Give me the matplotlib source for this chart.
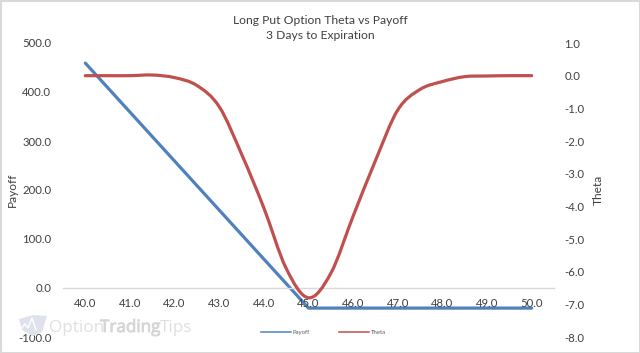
import matplotlib
matplotlib.use('Agg')
import matplotlib.pyplot as plt
import matplotlib.patheffects as pe
from matplotlib.lines import Line2D
from matplotlib.patches import PathPatch, Polygon, Rectangle
from matplotlib.path import Path

W, H = 640, 353

# ---- Data ----
payoff_x = [40.0, 41.0, 42.0, 43.0, 44.0, 45.0, 46.0, 47.0, 48.0, 49.0, 50.0]
payoff_y = [459, 359, 259, 159, 59, -41, -41, -41, -41, -41, -41]

theta_x = [40.0, 40.5, 41.0, 41.5, 42.0, 42.5, 43.0, 43.5, 44.0, 44.5, 45.0,
           45.5, 46.0, 46.5, 47.0, 47.5, 48.0, 48.5, 49.0, 49.5, 50.0]
theta_y = [0.0, 0.0, 0.0, 0.02, -0.06, -0.3, -0.95, -2.4, -4.05, -5.9, -6.8,
           -6.05, -4.3, -2.6, -1.05, -0.42, -0.18, -0.03, -0.01, 0.0, 0.0]

xticks = [40, 41, 42, 43, 44, 45, 46, 47, 48, 49, 50]
left_ticks = [-100, 0, 100, 200, 300, 400, 500]
right_ticks = [-8, -7, -6, -5, -4, -3, -2, -1, 0, 1]

BLUE = '#4f81bd'
RED = '#c0504d'
TEXT = '#404040'
FONT = 'Lato'


def px(x, y):
    """pixel position in the reference -> figure fraction"""
    return x / W, 1 - y / H


def smooth_path(xs, ys):
    """Bezier through every point, the way a spreadsheet draws a smoothed line"""
    verts = [(xs[0], ys[0])]
    codes = [Path.MOVETO]
    n = len(xs)
    for i in range(n - 1):
        a, b = max(i - 1, 0), min(i + 2, n - 1)
        verts.append((xs[i] + (xs[i + 1] - xs[a]) / 6, ys[i] + (ys[i + 1] - ys[a]) / 6))
        verts.append((xs[i + 1] - (xs[b] - xs[i]) / 6, ys[i + 1] - (ys[b] - ys[i]) / 6))
        verts.append((xs[i + 1], ys[i + 1]))
        codes += [Path.CURVE4] * 3
    return Path(verts, codes)


plt.rcParams['font.family'] = FONT
fig = plt.figure(figsize=(W / 100, H / 100), dpi=100, facecolor='white')

# frame round the chart
fig.add_artist(Rectangle((0, 0), 1, 1, transform=fig.transFigure, fill=False,
                         edgecolor='#d9d9d9', linewidth=2.2))

# watermark
fig.add_artist(Polygon([px(19, 319), px(33, 315), px(47, 316), px(42, 332), px(33, 336), px(22, 330)],
                       transform=fig.transFigure, facecolor='#dfe2ec', edgecolor='none'))
fig.add_artist(Line2D(*zip(px(20, 330), px(25, 324), px(28, 328), px(32, 318), px(36, 330)),
                      transform=fig.transFigure, color='white', linewidth=1.0))
wm = dict(fontsize=12.3, va='center', family='Open Sans')
y0 = px(0, 328)[1]
fig.text(px(49, 0)[0], y0, 'Option', color='#e0e0e0', **wm)
fig.text(px(100, 0)[0], y0, 'Trading', color='#d6d6d6',
         path_effects=[pe.withStroke(linewidth=0.6, foreground='#d6d6d6')], **wm)
fig.text(px(160, 0)[0], y0, 'Tips', color='#e0e0e0', **wm)

l, top = px(63, 43)
r, bot = px(554, 337)
ax = fig.add_axes([l, bot, r - l, top - bot], facecolor='none')
ax2 = ax.twinx()
ax2.set_facecolor('none')

ax.plot(payoff_x, payoff_y, color=BLUE, linewidth=2.3, solid_capstyle='round')
ax2.add_patch(PathPatch(smooth_path(theta_x, theta_y), facecolor='none', edgecolor=RED,
                        linewidth=2.3, capstyle='round', joinstyle='round'))

ax.set_xlim(39.5, 50.5)
ax.set_ylim(-100, 500)
ax2.set_ylim(-8, 1)
ax.set_axisbelow(False)  # tick labels sit on top of the payoff line

ax.set_xticks(xticks)
ax.set_xticklabels([f'{v:.1f}' for v in xticks])
ax.set_yticks(left_ticks)
ax.set_yticklabels([f'{v:.1f}' for v in left_ticks])
ax2.set_yticks(right_ticks)
ax2.set_yticklabels([f'{v:.1f}' for v in right_ticks])

ax.tick_params(axis='x', length=0, pad=7.5, labelsize=8.2, labelcolor=TEXT)
ax.tick_params(axis='y', length=0, pad=8.5, labelsize=8.2, labelcolor=TEXT)
ax2.tick_params(axis='y', length=0, pad=7.5, labelsize=8.2, labelcolor=TEXT)

for a in (ax, ax2):
    for s in a.spines.values():
        s.set_visible(False)
ax.spines['bottom'].set_visible(True)
ax.spines['bottom'].set_position(('data', 0))
ax.spines['bottom'].set_color('#d9d9d9')
ax.spines['bottom'].set_linewidth(1.0)

fig.text(*px(320, 28), 'Long Put Option Theta vs Payoff\n3 Days to Expiration', ha='center',
         va='center', fontsize=8.7, color=TEXT, linespacing=1.4)
fig.text(*px(12, 190), 'Payoff', rotation=90, ha='center', va='center', fontsize=8.6, color=TEXT)
fig.text(*px(598, 190), 'Theta', rotation=90, ha='center', va='center', fontsize=8.6, color=TEXT)

handles = [Line2D([], [], color=BLUE, linewidth=1.1), Line2D([], [], color=RED, linewidth=1.1)]
fig.legend(handles, ['Payoff', 'Theta'], ncol=2, loc='center', bbox_to_anchor=px(323.5, 332.5),
           frameon=False, fontsize=4.3, labelcolor='#595959', handlelength=5.0, handletextpad=0.3,
           columnspacing=5.0)

fig.savefig('out.png', dpi=100)
